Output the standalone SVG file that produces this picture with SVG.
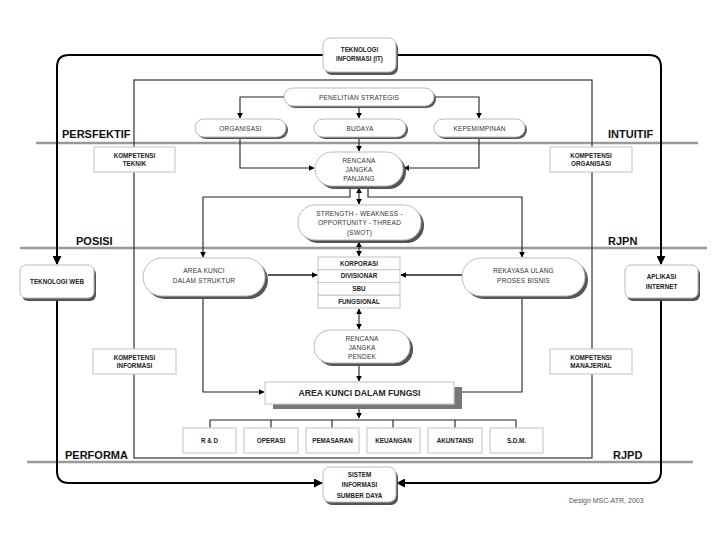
<svg xmlns="http://www.w3.org/2000/svg" width="720" height="540" viewBox="0 0 720 540">
<defs>
<marker id="ah" viewBox="0 0 10 10" refX="9" refY="5" markerWidth="6" markerHeight="6" markerUnits="userSpaceOnUse" orient="auto-start-reverse">
<path d="M0,0 L10,5 L0,10 z" fill="#000"/>
</marker>
<marker id="ahb" viewBox="0 0 10 10" refX="9" refY="5" markerWidth="9" markerHeight="9" markerUnits="userSpaceOnUse" orient="auto-start-reverse">
<path d="M0,0 L10,5 L0,10 z" fill="#000"/>
</marker>
</defs>
<style>
text{font-family:"Liberation Sans",Arial,sans-serif;text-anchor:middle;fill:#333}
.t{font-size:6.5px;letter-spacing:0.2px}
.tb{font-size:6.3px;font-weight:bold;fill:#222}
.lab{font-size:11px;font-weight:bold;fill:#111;text-anchor:start}
.sh{fill:#555}
.bx{fill:#fff;stroke:#bbb;stroke-width:1}
.sq{fill:#fff;stroke:#ccc;stroke-width:1.2}
.band{stroke:#999;stroke-width:2.5;fill:none}
.c{fill:none;stroke:#222;stroke-width:1.1}
.cg{fill:none;stroke:#555;stroke-width:2}
.f{fill:none;stroke:#000;stroke-width:2}
</style>
<rect width="720" height="540" fill="#fff"/>

<g id="bands">
<line class="band" x1="36" y1="143" x2="698" y2="143"/>
<line class="band" x1="20" y1="248" x2="707" y2="248"/>
<line class="band" x1="27" y1="462" x2="693" y2="462"/>
</g>

<g id="connectors">
<rect x="134" y="80" width="458" height="378" fill="none" stroke="#333" stroke-width="1.2"/>
<path class="f" d="M323,55 H69 Q57,55 57,67 V264" marker-end="url(#ahb)"/>
<path class="f" d="M396,55 H649 Q661,55 661,67 V264" marker-end="url(#ahb)"/>
<path class="f" d="M57,298 V471 Q57,483 69,483 H322" marker-end="url(#ahb)"/>
<path class="f" d="M661,298 V471 Q661,483 649,483 H397" marker-end="url(#ahb)"/>
<path class="c" d="M284,97 H240 V118" marker-end="url(#ah)"/>
<path class="c" d="M359,106 V118" marker-end="url(#ah)"/>
<path class="c" d="M434,97 H479 V118" marker-end="url(#ah)"/>
<path class="c" d="M359,137 V151" marker-end="url(#ah)"/>
<path class="c" d="M240,137 V168 H314" marker-end="url(#ah)"/>
<path class="c" d="M479,137 V168 H404" marker-end="url(#ah)"/>
<path class="c" d="M359,188 V204" marker-start="url(#ah)" marker-end="url(#ah)"/>
<path class="c" d="M350,189 V197 H203 V257" marker-end="url(#ah)"/>
<path class="c" d="M368,189 V197 H522 V257" marker-end="url(#ah)"/>
<path class="c" d="M359,242 V256" marker-start="url(#ah)" marker-end="url(#ah)"/>
<path class="cg" d="M268,275 H317" marker-end="url(#ah)"/>
<path class="cg" d="M462,275 H401" marker-end="url(#ah)"/>
<path class="c" d="M359,309 V329" marker-start="url(#ah)" marker-end="url(#ah)"/>
<path class="c" d="M359,366 V381" marker-end="url(#ah)"/>
<path class="c" d="M203,296 V392 H264" marker-end="url(#ah)"/>
<path class="c" d="M522,296 V392 H456" marker-end="url(#ah)"/>
<path class="c" d="M359,409 V418" marker-end="url(#ah)"/>
<path class="c" d="M210,428 V420 H516 V428 M271,420 V428 M332,420 V428 M393,420 V428 M455,420 V428"/>
</g>

<g id="it">
<rect class="sh" x="325" y="41" width="73" height="34" rx="7"/>
<rect class="bx" x="323" y="38" width="73" height="34" rx="7"/>
<text class="tb" x="359.5" y="52">TEKNOLOGI</text>
<text class="tb" x="359.5" y="61">INFORMASI (IT)</text>
</g>

<g id="penelitian">
<rect class="sh" x="286" y="90" width="150" height="18" rx="9"/>
<rect class="bx" x="284" y="88" width="150" height="18" rx="9"/>
<text class="t" x="359" y="99.5">PENELITIAN STRATEGIS</text>
</g>
<g id="organisasi">
<rect class="sh" x="197" y="121" width="91" height="18" rx="9"/>
<rect class="bx" x="195" y="119" width="91" height="18" rx="9"/>
<text class="t" x="240.5" y="130.5">ORGANISASI</text>
</g>
<g id="budaya">
<rect class="sh" x="316" y="121" width="92" height="18" rx="9"/>
<rect class="bx" x="314" y="119" width="92" height="18" rx="9"/>
<text class="t" x="360" y="130.5">BUDAYA</text>
</g>
<g id="kepemimpinan">
<rect class="sh" x="436" y="121" width="91" height="18" rx="9"/>
<rect class="bx" x="434" y="119" width="91" height="18" rx="9"/>
<text class="t" x="479.5" y="130.5">KEPEMIMPINAN</text>
</g>

<g id="rjp">
<rect class="sh" x="318" y="155" width="88" height="34" rx="17"/>
<rect class="bx" x="315" y="152" width="88" height="34" rx="17"/>
<text class="t" x="359" y="163">RENCANA</text>
<text class="t" x="359" y="172">JANGKA</text>
<text class="t" x="359" y="181">PANJANG</text>
</g>

<g id="swot">
<rect class="sh" x="301" y="208" width="123" height="35" rx="17"/>
<rect class="bx" x="298" y="205" width="123" height="35" rx="17"/>
<text class="t" x="359.5" y="215.5">STRENGTH - WEAKNESS -</text>
<text class="t" x="359.5" y="225">OPPORTUNITY - THREAD</text>
<text class="t" x="359.5" y="234.5">(SWOT)</text>
</g>

<g id="korporasi">
<rect class="sq" x="318" y="257" width="82" height="12.75"/>
<rect class="sq" x="318" y="269.75" width="82" height="12.75"/>
<rect class="sq" x="318" y="282.5" width="82" height="12.75"/>
<rect class="sq" x="318" y="295.25" width="82" height="12.75"/>
<text class="tb" x="359" y="265.5">KORPORASI</text>
<text class="tb" x="359" y="278.3">DIVISIONAR</text>
<text class="tb" x="359" y="291">SBU</text>
<text class="tb" x="359" y="303.8">FUNGSIONAL</text>
</g>

<g id="area-struktur">
<rect class="sh" x="146" y="261" width="122" height="38" rx="19"/>
<rect class="bx" x="143" y="258" width="122" height="38" rx="19"/>
<text class="t" x="204" y="273">AREA KUNCI</text>
<text class="t" x="204" y="283">DALAM STRUKTUR</text>
</g>

<g id="rekayasa">
<rect class="sh" x="465" y="261" width="123" height="38" rx="19"/>
<rect class="bx" x="462" y="258" width="123" height="38" rx="19"/>
<text class="t" x="523.5" y="273">REKAYASA ULANG</text>
<text class="t" x="523.5" y="283">PROSES BISNIS</text>
</g>

<g id="rjpendek">
<rect class="sh" x="317" y="333" width="96" height="33" rx="16"/>
<rect class="bx" x="314" y="330" width="96" height="33" rx="16"/>
<text class="t" x="362" y="340.5">RENCANA</text>
<text class="t" x="362" y="349.5">JANGKA</text>
<text class="t" x="362" y="358.5">PENDEK</text>
</g>

<g id="area-fungsi">
<rect fill="#777" x="273" y="387" width="189" height="22"/>
<rect class="sq" x="265" y="382" width="189" height="22"/>
<text x="359.5" y="396" style="font-size:8.6px;font-weight:bold;fill:#222">AREA KUNCI DALAM FUNGSI</text>
</g>

<g id="rd"><rect class="sq" x="183" y="428" width="53" height="25"/><text class="tb" x="209.5" y="443">R &amp; D</text></g>
<g id="operasi"><rect class="sq" x="244" y="428" width="54" height="25"/><text class="tb" x="271" y="443">OPERASI</text></g>
<g id="pemasaran"><rect class="sq" x="306" y="428" width="53" height="25"/><text class="tb" x="332.5" y="443">PEMASARAN</text></g>
<g id="keuangan"><rect class="sq" x="367" y="428" width="53" height="25"/><text class="tb" x="393.5" y="443">KEUANGAN</text></g>
<g id="akuntansi"><rect class="sq" x="428" y="428" width="54" height="25"/><text class="tb" x="455" y="443">AKUNTANSI</text></g>
<g id="sdm"><rect class="sq" x="490" y="428" width="53" height="25"/><text class="tb" x="516.5" y="443">S.D.M.</text></g>

<g id="sistem">
<rect class="sh" x="325" y="470" width="73" height="35" rx="7"/>
<rect class="bx" x="323" y="467" width="73" height="35" rx="7"/>
<text class="tb" x="359.5" y="477">SISTEM</text>
<text class="tb" x="359.5" y="487">INFORMASI</text>
<text class="tb" x="359.5" y="497.5">SUMBER DAYA</text>
</g>

<g id="tekweb">
<rect class="sh" x="22" y="268" width="74" height="33" rx="6"/>
<rect class="bx" x="20" y="265" width="74" height="33" rx="6"/>
<text class="tb" x="57" y="284">TEKNOLOGI WEB</text>
</g>

<g id="aplikasi">
<rect class="sh" x="627" y="268" width="73" height="33" rx="6"/>
<rect class="bx" x="625" y="265" width="73" height="33" rx="6"/>
<text class="tb" x="661.5" y="279">APLIKASI</text>
<text class="tb" x="661.5" y="288.5">INTERNET</text>
</g>

<g id="komp-teknik">
<rect class="sq" x="94" y="147" width="81" height="25"/>
<text class="tb" x="134.5" y="157.5">KOMPETENSI</text>
<text class="tb" x="134.5" y="166">TEKNIK</text>
</g>
<g id="komp-organisasi">
<rect class="sq" x="550" y="147" width="82" height="25"/>
<text class="tb" x="591" y="157.5">KOMPETENSI</text>
<text class="tb" x="591" y="166">ORGANISASI</text>
</g>
<g id="komp-informasi">
<rect class="sq" x="93" y="349" width="83" height="25"/>
<text class="tb" x="134.5" y="359.5">KOMPETENSI</text>
<text class="tb" x="134.5" y="368">INFORMASI</text>
</g>
<g id="komp-manajerial">
<rect class="sq" x="550" y="349" width="82" height="25"/>
<text class="tb" x="591" y="359.5">KOMPETENSI</text>
<text class="tb" x="591" y="368">MANAJERIAL</text>
</g>

<g id="labels">
<text class="lab" x="62" y="138">PERSFEKTIF</text>
<text class="lab" x="608" y="138">INTUITIF</text>
<text class="lab" x="76" y="245">POSISI</text>
<text class="lab" x="608" y="245">RJPN</text>
<text class="lab" x="65" y="459">PERFORMA</text>
<text class="lab" x="613" y="459">RJPD</text>
<text x="569" y="503" style="font-size:7px;fill:#555;text-anchor:start">Design MSC-ATR, 2003</text>
</g>
</svg>
